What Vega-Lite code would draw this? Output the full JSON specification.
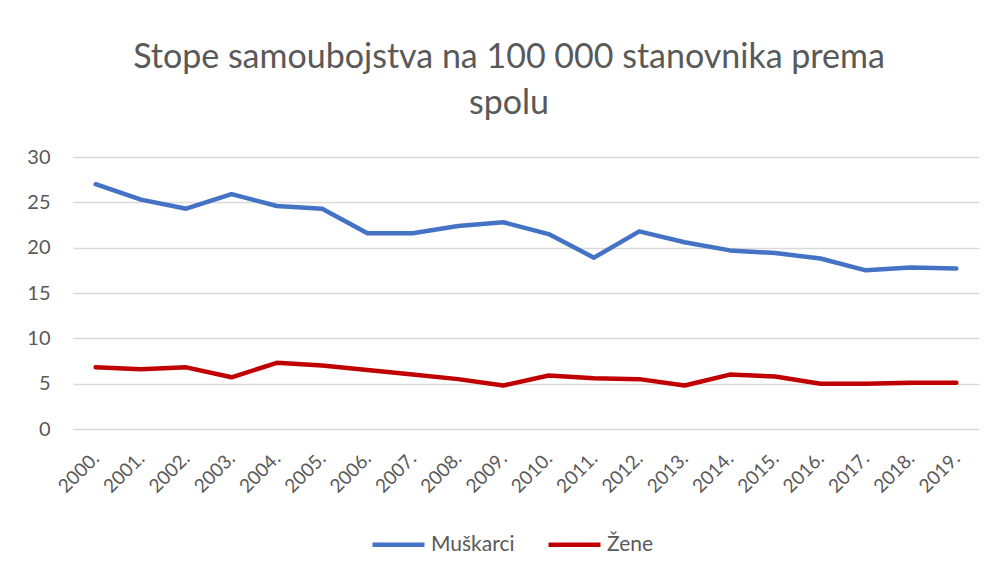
{
  "$schema": "https://vega.github.io/schema/vega-lite/v6.json",
  "autosize": {"type": "none"},
  "width": 906,
  "height": 272,
  "padding": {"left": 73, "top": 157, "right": 14, "bottom": 147},
  "background": "white",
  "title": {
    "text": ["Stope samoubojstva na 100 000 stanovnika prema", "spolu"],
    "anchor": "middle",
    "font": "Lato",
    "fontSize": 34,
    "fontWeight": "normal",
    "color": "#595959",
    "lineHeight": 46,
    "offset": 26,
    "dx": -17
  },
  "data": {
    "values": [
      {"godina": "2000.", "spol": "Muškarci", "stopa": 27.0},
      {"godina": "2001.", "spol": "Muškarci", "stopa": 25.3},
      {"godina": "2002.", "spol": "Muškarci", "stopa": 24.3},
      {"godina": "2003.", "spol": "Muškarci", "stopa": 25.9},
      {"godina": "2004.", "spol": "Muškarci", "stopa": 24.6},
      {"godina": "2005.", "spol": "Muškarci", "stopa": 24.3},
      {"godina": "2006.", "spol": "Muškarci", "stopa": 21.6},
      {"godina": "2007.", "spol": "Muškarci", "stopa": 21.6},
      {"godina": "2008.", "spol": "Muškarci", "stopa": 22.4},
      {"godina": "2009.", "spol": "Muškarci", "stopa": 22.8},
      {"godina": "2010.", "spol": "Muškarci", "stopa": 21.5},
      {"godina": "2011.", "spol": "Muškarci", "stopa": 18.9},
      {"godina": "2012.", "spol": "Muškarci", "stopa": 21.8},
      {"godina": "2013.", "spol": "Muškarci", "stopa": 20.6},
      {"godina": "2014.", "spol": "Muškarci", "stopa": 19.7},
      {"godina": "2015.", "spol": "Muškarci", "stopa": 19.4},
      {"godina": "2016.", "spol": "Muškarci", "stopa": 18.8},
      {"godina": "2017.", "spol": "Muškarci", "stopa": 17.5},
      {"godina": "2018.", "spol": "Muškarci", "stopa": 17.8},
      {"godina": "2019.", "spol": "Muškarci", "stopa": 17.7},
      {"godina": "2000.", "spol": "Žene", "stopa": 6.8},
      {"godina": "2001.", "spol": "Žene", "stopa": 6.6},
      {"godina": "2002.", "spol": "Žene", "stopa": 6.8},
      {"godina": "2003.", "spol": "Žene", "stopa": 5.7},
      {"godina": "2004.", "spol": "Žene", "stopa": 7.3},
      {"godina": "2005.", "spol": "Žene", "stopa": 7.0},
      {"godina": "2006.", "spol": "Žene", "stopa": 6.5},
      {"godina": "2007.", "spol": "Žene", "stopa": 6.0},
      {"godina": "2008.", "spol": "Žene", "stopa": 5.5},
      {"godina": "2009.", "spol": "Žene", "stopa": 4.8},
      {"godina": "2010.", "spol": "Žene", "stopa": 5.9},
      {"godina": "2011.", "spol": "Žene", "stopa": 5.6},
      {"godina": "2012.", "spol": "Žene", "stopa": 5.5},
      {"godina": "2013.", "spol": "Žene", "stopa": 4.8},
      {"godina": "2014.", "spol": "Žene", "stopa": 6.0},
      {"godina": "2015.", "spol": "Žene", "stopa": 5.8},
      {"godina": "2016.", "spol": "Žene", "stopa": 5.0},
      {"godina": "2017.", "spol": "Žene", "stopa": 5.0},
      {"godina": "2018.", "spol": "Žene", "stopa": 5.1},
      {"godina": "2019.", "spol": "Žene", "stopa": 5.1}
    ]
  },
  "mark": {"type": "line", "strokeWidth": 4.5, "strokeCap": "round", "strokeJoin": "round"},
  "encoding": {
    "x": {
      "field": "godina",
      "type": "ordinal",
      "scale": {"type": "point", "padding": 0.5},
      "axis": {
        "title": null,
        "labelAngle": -45,
        "labelAlign": "right",
        "labelBaseline": "middle",
        "labelPadding": 26,
        "labelFontSize": 19,
        "labelColor": "#595959",
        "labelFont": "Lato",
        "ticks": false,
        "domain": false,
        "grid": false
      }
    },
    "y": {
      "field": "stopa",
      "type": "quantitative",
      "scale": {"domain": [0, 30]},
      "axis": {
        "title": null,
        "values": [0, 5, 10, 15, 20, 25, 30],
        "labelFontSize": 20,
        "labelColor": "#595959",
        "labelFont": "Lato",
        "labelPadding": 23,
        "ticks": false,
        "domain": false,
        "gridColor": "#D9D9D9",
        "gridWidth": 1.3
      }
    },
    "color": {
      "field": "spol",
      "type": "nominal",
      "scale": {"domain": ["Muškarci", "Žene"], "range": ["#4472C4", "#C00000"]},
      "legend": {
        "title": null,
        "orient": "none",
        "direction": "horizontal",
        "legendX": 297,
        "legendY": 359,
        "symbolType": "stroke",
        "symbolSize": 2700,
        "symbolStrokeWidth": 4.5,
        "labelFontSize": 21,
        "labelColor": "#595959",
        "labelFont": "Lato",
        "columnPadding": 24,
        "labelOffset": 4
      }
    }
  },
  "config": {"view": {"stroke": null}}
}
